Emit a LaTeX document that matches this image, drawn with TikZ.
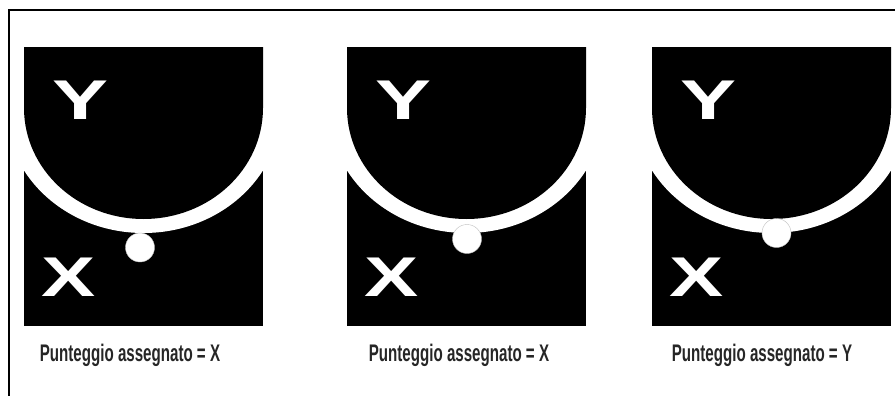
\documentclass[tikz,border=0pt]{standalone}
\usepackage{fontspec}
\setmainfont{Liberation Sans}
\begin{document}
\begin{tikzpicture}[x=1pt,y=-1pt,
  letter/.style={text=white,inner sep=0pt,font=\fontsize{56}{56}\selectfont\bfseries},
  caption/.style={text=black!85,inner sep=0pt,anchor=base,font=\fontsize{24}{24}\selectfont\bfseries},
  ball/.style={fill=white,draw=gray!50,line width=0.4pt}]
\useasboundingbox (0,0) rectangle (895,396);
\fill[white] (0,0) rectangle (895,396);
% frame
\draw[line width=1.8pt] (9,396) -- (9,10) -- (895,10);
\foreach \x/\dx/\dy/\lab/\tx [count=\i] in {24/-3.5/247.5/X/130, 347/0.5/239/X/459, 652/5/233/Y/762}{
  \fill[black] (\x,48) rectangle ++(239,278);
  \begin{scope}
    \clip (\x,48) rectangle ++(239,278);
    \fill[white] (\x+119.5-137.9,108) arc[start angle=180,end angle=0,x radius=137.9,y radius=125] -- cycle;
    \fill[black] (\x,40) -- (\x,108) arc[start angle=180,end angle=0,x radius=119.5,y radius=111] -- (\x+239,40) -- cycle;
  \end{scope}
  \node[letter] (Y\i) at (\x+57,100) {\scalebox{1.5}[1]{Y}};
  \node[letter] (X\i) at (\x+45,277) {\scalebox{1.45}[1]{X}};
  \path[ball] (\x+119.5+\dx,\dy) circle[radius=14.5];
  \node[caption] (C\i) at (\tx,361) {\scalebox{0.63}[1]{Punteggio assegnato = \lab}};
}
\end{tikzpicture}
\end{document}
